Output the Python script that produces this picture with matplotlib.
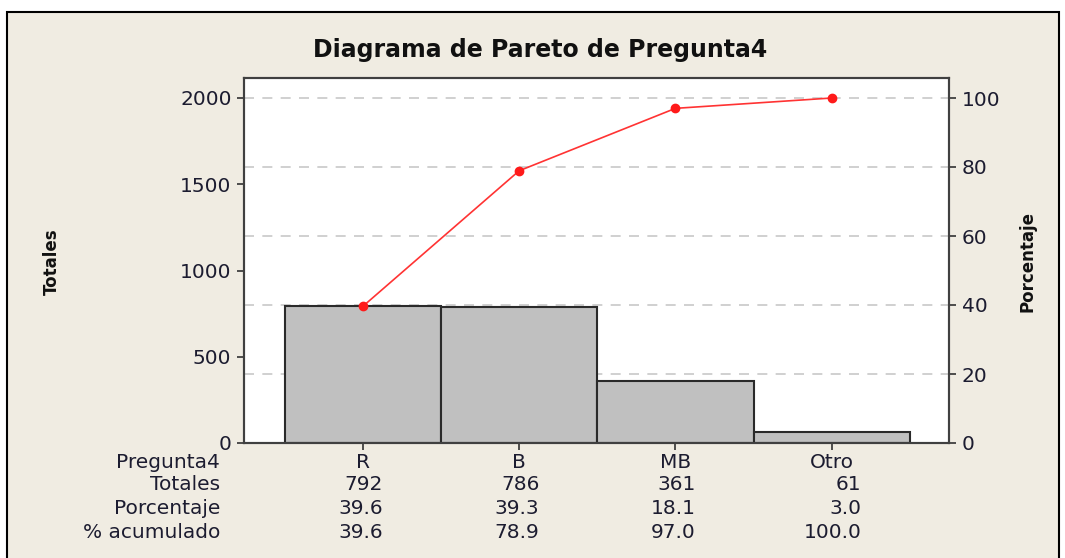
import matplotlib
matplotlib.use("Agg")
import matplotlib.pyplot as plt
from matplotlib.patches import Rectangle
from matplotlib.transforms import blended_transform_factory

categories = ["R", "B", "MB", "Otro"]
totals = [792, 786, 361, 61]
percent = [39.6, 39.3, 18.1, 3.0]
cum_percent = [39.6, 78.9, 97.0, 100.0]
left_ticks = [0, 500, 1000, 1500, 2000]
right_ticks = [0, 20, 40, 60, 80, 100]
row_labels = ["Pregunta4", "Totales", "Porcentaje", "% acumulado"]

W, H = 1065, 558
fig = plt.figure(figsize=(W / 100, H / 100), dpi=100, facecolor="white")
bg = "#f0ece2"
txt = "#1c1c30"
FS = 14.5
fig.patches.append(Rectangle((7 / W, -0.05), (1059 - 7) / W, 1.05 - 12 / H,
                             transform=fig.transFigure, facecolor=bg,
                             edgecolor="black", linewidth=1.5, zorder=-10))

ax = fig.add_axes([244 / W, 1 - 443 / H, (949 - 244) / W, (443 - 78) / H])
ax.set_facecolor("white")
x = list(range(len(categories)))
ymax_left = 2000 * 365 / 345
ymax_right = 100 * 365 / 345
scale = ymax_left / ymax_right
for t in right_ticks[1:]:
    ax.axhline(t * scale, color="#c8c8c8", linestyle=(0, (6, 5)), linewidth=1.2, zorder=0)
ax.bar(x, totals, width=1.0, color="#c0c0c0", edgecolor="#2a2a2a", linewidth=1.5, zorder=2)
ax.set_xlim(-0.76, 3.75)
ax.set_ylim(0, ymax_left)
ax.set_yticks(left_ticks)
ax.set_xticks(x)
ax.set_xticklabels([])
ax.tick_params(axis="y", direction="out", length=5, width=1.3, colors="#404040",
               labelsize=FS, labelcolor=txt, pad=4)
ax.tick_params(axis="x", direction="out", length=5, width=1.3, colors="#404040")
for s in ax.spines.values():
    s.set_color("#404040")
    s.set_linewidth(1.5)

ax2 = ax.twinx()
ax2.set_ylim(0, ymax_right)
ax2.set_yticks(right_ticks)
ax2.tick_params(axis="y", direction="out", length=5, width=1.3, colors="#404040",
                labelsize=FS, labelcolor=txt, pad=4)
for s in ax2.spines.values():
    s.set_color("#404040")
    s.set_linewidth(1.5)
ax2.plot(x, cum_percent, color="#ff3333", linewidth=1.2, marker="o",
         markersize=6, markerfacecolor="#ff1a1a", markeredgecolor="#ff1a1a", zorder=5)

fig.text(540 / W, 1 - 50 / H, "Diagrama de Pareto de Pregunta4", ha="center", va="center",
         fontsize=17, fontweight="bold", color="#111111")
fig.text(52 / W, 1 - 262 / H, "Totales", rotation=90, ha="center", va="center",
         fontsize=12, fontweight="bold", color="#111111")
fig.text(1028 / W, 1 - 262 / H, "Porcentaje", rotation=90, ha="center", va="center",
         fontsize=12, fontweight="bold", color="#111111")

tr = blended_transform_factory(ax.transData, fig.transFigure)
row_y = [462, 484, 509, 533]
for lab, yy in zip(row_labels, row_y):
    fig.text(220 / W, 1 - yy / H, lab, ha="right", va="center", fontsize=FS, color=txt)
offsets = [0.13, 0.13, 0.13, 0.19]
for i, c in enumerate(categories):
    ax.text(i, 1 - row_y[0] / H, c, transform=tr, ha="center", va="center",
            fontsize=FS, color=txt, clip_on=False)
    vals = [f"{totals[i]}", f"{percent[i]:.1f}", f"{cum_percent[i]:.1f}"]
    for v, yy in zip(vals, row_y[1:]):
        ax.text(i + offsets[i], 1 - yy / H, v, transform=tr, ha="right", va="center",
                fontsize=FS, color=txt, clip_on=False)

fig.savefig("out.png", dpi=100, facecolor=fig.get_facecolor())
